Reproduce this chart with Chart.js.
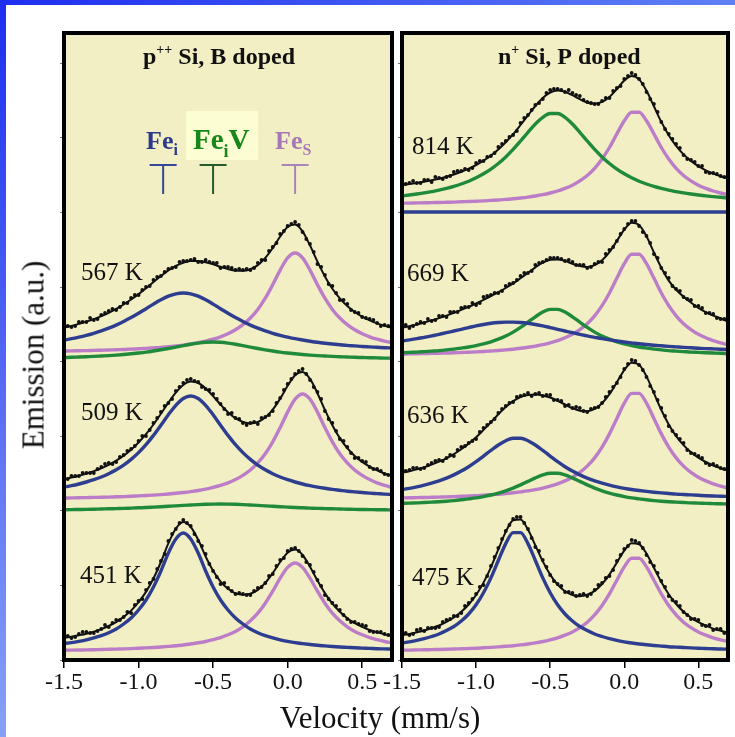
<!DOCTYPE html>
<html>
<head>
<meta charset="utf-8">
<script src="https://cdn.jsdelivr.net/npm/chart.js@4.4.1/dist/chart.umd.min.js"></script>
<style>
  html, body { margin: 0; padding: 0; background: #fff; }
  body { width: 735px; height: 737px; position: relative; overflow: hidden; font-family: "Liberation Serif", "Times New Roman", serif; color: #111; }
  #topbar { position: absolute; left: 0; top: 0; width: 735px; height: 5px; background: linear-gradient(to right, #1e2ef0, #5f80f5); }
  #leftbar { position: absolute; left: 0; top: 0; width: 6px; height: 737px; background: linear-gradient(to bottom, #1e2ef0, #86a2f7); }
  canvas { position: absolute; top: 0; }
  #cLeft { left: 0; }
  #cRight { left: 338px; }
  #ylab { position: absolute; left: 33px; top: 355px; transform: translate(-50%, -50%) rotate(-90deg); font-size: 31px; line-height: 31px; white-space: nowrap; }
  #xlab { position: absolute; left: 380px; top: 702px; transform: translateX(-50%); font-size: 31px; line-height: 31px; white-space: nowrap; }
</style>
</head>
<body>
<div id="topbar"></div>
<div id="leftbar"></div>
<canvas id="cLeft" width="400" height="737"></canvas>
<canvas id="cRight" width="397" height="737"></canvas>
<div id="ylab">Emission (a.u.)</div>
<div id="xlab">Velocity (mm/s)</div>
<script>
// velocity grids (mm/s): curves and data points on the main grid, extra data points in between
const velocity = [-1.5,-1.45,-1.4,-1.35,-1.3,-1.25,-1.2,-1.15,-1.1,-1.05,-1.0,-0.95,-0.9,-0.85,-0.8,-0.75,-0.7,-0.65,-0.6,-0.55,-0.5,-0.45,-0.4,-0.35,-0.3,-0.25,-0.2,-0.15,-0.1,-0.05,0,0.05,0.1,0.15,0.2,0.25,0.3,0.35,0.4,0.45,0.5,0.55,0.6,0.65,0.7]
const velocityMid = [-1.475,-1.425,-1.375,-1.325,-1.275,-1.225,-1.175,-1.125,-1.075,-1.025,-0.975,-0.925,-0.875,-0.825,-0.775,-0.725,-0.675,-0.625,-0.575,-0.525,-0.475,-0.425,-0.375,-0.325,-0.275,-0.225,-0.175,-0.125,-0.075,-0.025,0.025,0.075,0.125,0.175,0.225,0.275,0.325,0.375,0.425,0.475,0.525,0.575,0.625,0.675]

// p++ Si, B doped (values above each spectrum's baseline, a.u.)
const offsetsLeft = [307, 160, 8]
const tempsLeft = ['567 K', '509 K', '451 K']

const dots567 = [27,26,31,31,33,38,42,43,50,55,58,66,73,77,84,86,92,93,91,93,90,85,86,83,83,83,90,93,106,119,127,131,121,109,89,78,67,53,49,41,36,34,30,28,24]
const mid567 = [27,27,31,35,34,40,44,46,50,58,63,67,76,81,85,91,92,94,91,91,90,86,85,84,84,85,93,102,110,122,129,128,114,101,86,69,60,53,43,40,35,33,27,27]
const fit567 = [25.5,27.1,29.2,31.4,33.9,36.9,40.2,44.1,48.5,53.5,58.9,64.8,71,77,82.6,87.1,90.3,92,92,90.8,88.7,86.2,83.9,82.4,82.2,83.8,87.9,95.1,105,116.5,126,128.5,121.6,107.6,91.4,76.6,64.2,54.6,46.9,41,36.3,32.6,29.6,27.1,25.1]
const blue567 = [13.0,14.3,15.9,17.7,19.7,22.1,24.8,27.9,31.5,35.4,39.7,44.3,48.9,53.2,56.8,59.2,60,59.2,56.8,53.2,48.9,44.3,39.7,35.4,31.5,27.9,24.8,22.1,19.7,17.7,15.9,14.3,13.0,11.8,10.7,9.8,9.0,8.3,7.6,7.1,6.5,6.1,5.7,5.3,5.0]
const green567 = [-4.5,-4.3,-4.0,-3.7,-3.4,-3.0,-2.6,-2.1,-1.5,-0.8,0,0.9,2,3.2,4.5,5.9,7.4,8.8,9.9,10.7,11,10.7,9.9,8.8,7.4,5.9,4.5,3.2,2,0.9,0,-0.8,-1.5,-2.1,-2.6,-3.0,-3.4,-3.7,-4.0,-4.3,-4.5,-4.7,-4.9,-5.1,-5.2]
const pink567 = [2.0,2.1,2.3,2.4,2.6,2.8,3.0,3.3,3.5,3.9,4.2,4.6,5.1,5.6,6.3,7.0,7.9,9.0,10.3,11.9,13.8,16.2,19.3,23.2,28.3,35.0,43.6,54.8,68.3,82.9,95.1,100,95.1,82.9,68.3,54.8,43.6,35.0,28.3,23.2,19.3,16.2,13.8,11.9,10.3]

const dots509 = [20,24,24,27,27,33,37,38,45,51,59,64,77,88,97,109,117,121,118,111,106,96,86,82,77,77,76,83,89,102,116,126,131,120,108,89,77,61,53,42,39,33,31,26,25]
const mid509 = [21,24,27,27,31,36,36,43,49,54,64,70,82,94,101,113,120,119,113,110,101,91,87,81,75,78,82,85,97,110,121,129,126,113,101,81,69,59,47,42,38,31,29,25]
const fit509 = [20.9,22.4,24.2,26.4,28.9,31.7,35.2,39.4,44.3,50.3,57.5,65.8,75.5,86.2,97.3,107.4,115,118.4,117,111.6,103.9,95.4,87.8,81.8,78,76.6,78,82.4,90.4,101.4,114.2,124.8,128,121.1,106.8,90.1,74.7,61.9,51.9,44.1,38.1,33.4,29.6,26.5,24.1]
const blue509 = [12.9,14.3,16.0,18.0,20.3,23.0,26.3,30.2,34.9,40.6,47.4,55.3,64.6,74.8,85.3,94.7,101.5,104,101.5,94.7,85.3,74.8,64.6,55.3,47.4,40.6,34.9,30.2,26.3,23.0,20.3,18.0,16.0,14.3,12.9,11.7,10.6,9.7,8.8,8.1,7.5,6.9,6.4,5.9,5.5]
const green509 = [-9.7,-9.6,-9.5,-9.4,-9.2,-9.0,-8.8,-8.6,-8.4,-8.1,-7.8,-7.5,-7.1,-6.7,-6.3,-5.9,-5.4,-5.0,-4.6,-4.3,-4.1,-4.0,-4.1,-4.3,-4.6,-5.0,-5.4,-5.9,-6.3,-6.7,-7.1,-7.5,-7.8,-8.1,-8.4,-8.6,-8.8,-9.0,-9.2,-9.4,-9.5,-9.6,-9.7,-9.8,-9.9]
const pink509 = [2.0,2.1,2.2,2.4,2.6,2.7,2.9,3.2,3.4,3.7,4.1,4.5,4.9,5.4,6.0,6.7,7.5,8.4,9.5,10.9,12.6,14.6,17.2,20.5,24.6,30.0,37.1,46.2,58.1,72.4,87.9,100.8,106,100.8,87.9,72.4,58.1,46.2,37.1,30.0,24.6,20.5,17.2,14.6,12.6]

const dots451 = [15,14,18,20,19,23,25,32,35,39,51,62,73,91,111,123,132,126,111,98,81,68,64,58,58,57,64,69,78,92,101,104,96,87,72,57,49,42,33,30,27,21,20,18,18]
const mid451 = [16,15,20,19,21,27,29,32,40,47,53,69,83,98,118,129,129,118,106,88,75,69,61,59,57,61,65,76,86,94,103,101,90,80,66,53,46,37,30,28,26,20,20,17]
const fit451 = [14.2,15.3,16.7,18.3,20.4,22.9,26.0,29.9,35.1,41.4,49.8,60.1,73.5,90,108.6,123.3,130,125,112.2,95.5,81.3,70.4,63.2,58.6,57.2,58.2,62.1,69.2,78.9,90,99.3,102.4,97,85.3,71.5,58.9,48.3,40.2,33.8,28.8,25.1,22,19.6,17.6,16.1]
const blue451 = [8.4,9.4,10.7,12.2,14.1,16.4,19.3,23,28,34,42,52,65,81,99,113,119,113,99,81,65,52,42,34,28,23,19.3,16.4,14.1,12.2,10.7,9.4,8.4,7.5,6.7,6.1,5.5,5.0,4.6,4.2,3.9,3.6,3.3,3.1,2.9]
const pink451 = [1.8,1.9,2.0,2.1,2.3,2.5,2.7,2.9,3.1,3.4,3.8,4.1,4.5,5.0,5.6,6.3,7.0,8.0,9.2,10.5,12.3,14.4,17.2,20.6,25.2,31.2,38.8,48.8,60.8,73.8,84.6,89,84.6,73.8,60.8,48.8,38.8,31.2,25.2,20.6,17.2,14.4,12.3,10.5,9.2]

// n+ Si, P doped
const offsetsRight = [455, 304, 160, 8]
const tempsRight = ['814 K', '669 K', '636 K', '475 K']

const dots814 = [19,22,22,25,23,27,28,33,34,35,42,44,49,58,64,70,82,90,100,106,115,116,113,112,109,103,101,104,107,117,126,132,126,113,101,83,71,61,50,45,39,33,32,29,25]
const mid814 = [21,24,22,25,28,26,29,34,36,37,44,48,52,61,68,74,87,95,102,112,116,115,115,110,105,102,101,107,114,119,129,130,121,106,93,76,66,57,46,43,39,32,31,28]
const fit814 = [19.9,20.9,22.1,23.3,24.8,26.3,28.3,30.5,33.2,36.3,40,44.3,49.5,55.5,62.7,70.8,80,89.6,99,107,112.5,114.5,113.3,109.8,105.8,102.5,101.3,103.1,108,116,124.4,129,125.6,114.2,98.7,83.1,69.8,59.1,50.6,44.1,38.8,34.7,31.4,28.7,26.4]
const blue814 = [-7,-7,-7,-7,-7,-7,-7,-7,-7,-7,-7,-7,-7,-7,-7,-7,-7,-7,-7,-7,-7,-7,-7,-7,-7,-7,-7,-7,-7,-7,-7,-7,-7,-7,-7,-7,-7,-7,-7,-7,-7,-7,-7,-7,-7]
const green814 = [9.1,10.0,11.0,12.1,13.4,14.8,16.6,18.6,21.0,23.8,27.2,31.2,35.9,41.5,48.1,55.6,64.0,72.7,81.0,87.7,91.5,91.5,87.7,81.0,72.7,64.0,55.6,48.1,41.5,35.9,31.2,27.2,23.8,21.0,18.6,16.6,14.8,13.4,12.1,11.0,10.0,9.1,8.4,7.7,7.1]
const pink814 = [1.8,1.9,2.1,2.2,2.4,2.5,2.7,2.9,3.2,3.5,3.8,4.1,4.6,5.0,5.6,6.2,7.0,7.9,9.0,10.3,12.0,14.0,16.6,19.8,24.1,29.5,36.7,46.0,57.5,71.1,84.2,92.8,92.8,84.2,71.1,57.5,46.0,36.7,29.5,24.1,19.8,16.6,14.0,12.0,10.3]

const dots669 = [29,28,32,33,35,40,39,44,48,49,51,59,61,63,70,73,80,83,91,94,98,98,95,94,91,88,92,94,106,115,127,135,130,120,102,88,78,67,59,56,50,43,42,37,35]
const mid669 = [31,30,34,37,36,40,44,44,49,53,53,60,63,65,72,76,83,85,93,96,98,97,96,91,91,89,94,102,109,122,132,135,124,113,98,83,70,65,57,50,48,43,38,37]
const fit669 = [28.3,29.8,31.4,33.5,35.6,37.9,40.4,43.1,46.1,49.2,52.6,56.1,59.9,63.8,68,72.6,77.8,83.2,88.6,93.3,96.2,96.6,95.1,92.2,89.9,89,90.8,95.7,103.9,115.1,126.4,133.2,130.9,119.7,103.6,88.3,75.4,66.2,59.3,53.5,48.1,43.9,40.4,37.7,34.3]
const blue669 = [15.0,16.1,17.3,18.7,20.1,21.7,23.3,25.0,26.7,28.4,30.1,31.5,32.7,33.5,33.9,33.9,33.5,32.7,31.5,30.1,28.4,26.7,25.0,23.3,21.7,20.1,18.7,17.3,16.1,15.0,14.0,13.1,12.2,11.5,10.8,10.2,9.6,9.1,8.6,8.2,7.8,7.4,7.1,6.8,6.5]
const green669 = [3.3,3.6,3.9,4.4,4.9,5.4,6.1,6.9,7.9,9.0,10.4,12.1,14.2,16.8,20.0,23.9,28.6,33.8,39.2,43.9,46.6,46.6,43.9,39.2,33.8,28.6,23.9,20.0,16.8,14.2,12.1,10.4,9.0,7.9,6.9,6.1,5.4,4.9,4.4,3.9,3.6,3.3,3.0,2.7,2.5]
const pink669 = [2.0,2.1,2.2,2.4,2.6,2.8,3.0,3.2,3.5,3.8,4.1,4.5,5.0,5.5,6.1,6.8,7.7,8.7,9.9,11.3,13.2,15.3,18.2,21.7,26.4,32.3,40.2,50.4,63.0,77.9,92.3,101.7,101.7,92.3,77.9,63.0,50.4,40.2,32.3,26.4,21.7,18.2,15.3,13.2,11.3]

const dots636 = [25,30,32,32,37,40,42,44,53,57,61,72,78,87,94,98,104,107,106,104,105,100,94,92,92,88,92,97,108,117,131,140,135,123,108,92,74,65,57,47,44,37,36,32,30]
const mid636 = [29,32,31,35,39,39,45,50,54,59,68,75,81,91,97,103,105,104,107,105,100,99,95,93,89,91,93,103,113,123,136,139,130,114,100,84,69,61,50,46,42,35,34,31]
const fit636 = [27.2,28.8,30.6,32.8,35.4,38.3,41.7,45.9,50.8,56.4,62.7,70.1,77.8,85.7,92.9,98.8,102.9,105,105.5,104.6,102.5,99.2,95.5,91.8,89.3,88.8,91.1,96.8,105.8,117.7,129.9,137.2,135.2,123.6,106.8,90,75.6,63.9,54.9,47.8,42.4,38,34.5,31.8,29.4]
const blue636 = [10.5,11.7,13.1,14.8,16.8,19.1,21.8,25.1,28.9,33.3,38.3,43.9,49.6,55.0,59.3,61.7,61.7,59.3,55.0,49.6,43.9,38.3,33.3,28.9,25.1,21.8,19.1,16.8,14.8,13.1,11.7,10.5,9.5,8.6,7.8,7.1,6.5,5.9,5.5,5.1,4.7,4.3,4.0,3.8,3.5]
const green636 = [-3.4,-3.1,-2.9,-2.5,-2.1,-1.7,-1.2,-0.6,0.2,1.1,2.1,3.4,5.0,6.9,9.2,11.9,15.1,18.6,22.1,25.1,26.8,26.8,25.1,22.1,18.6,15.1,11.9,9.2,6.9,5.0,3.4,2.1,1.1,0.2,-0.6,-1.2,-1.7,-2.1,-2.5,-2.9,-3.1,-3.4,-3.6,-3.8,-4.0]
const pink636 = [2.1,2.2,2.4,2.5,2.7,2.9,3.1,3.4,3.7,4.0,4.3,4.8,5.2,5.8,6.4,7.2,8.1,9.1,10.4,11.9,13.8,16.1,19.1,22.8,27.6,33.9,42.1,52.8,66.1,81.6,96.8,106.6,106.6,96.8,81.6,66.1,52.8,42.1,33.9,27.6,22.8,19.1,16.1,13.8,11.9]

const dots475 = [18,17,22,21,24,25,32,36,39,49,58,67,86,104,121,133,135,123,105,92,77,68,60,59,57,56,62,69,76,91,103,112,109,97,86,71,56,50,40,33,32,26,22,23,19]
const mid475 = [19,18,23,24,24,30,33,36,46,53,65,76,95,113,127,135,129,114,101,85,71,66,60,56,58,58,67,74,82,97,106,111,104,90,79,65,52,46,37,33,27,27,23,19]
const fit475 = [16.8,18.1,19.7,21.5,23.9,26.5,30.1,34.5,40.2,47.5,57,69.4,84.7,102.6,120.1,131.7,132.5,122.4,106.6,90.6,77.4,67.4,60.8,57,55.8,57.2,61.1,68,77.4,89.4,101.3,108.8,107.8,98.3,84.3,70,57.8,48,40.3,34.4,29.8,26.3,23.4,21.2,19.3]
const blue475 = [9.0,10.2,11.6,13.3,15.5,18.0,21.4,25.5,31.0,38.0,47.2,59.2,74.1,91.5,108.4,119.4,119.4,108.4,91.5,74.1,59.2,47.2,38.0,31.0,25.5,21.4,18.0,15.5,13.3,11.6,10.2,9.0,8.0,7.2,6.5,5.9,5.3,4.9,4.5,4.1,3.8,3.5,3.2,3.0,2.8]
const pink475 = [1.8,1.9,2.1,2.2,2.4,2.5,2.7,3.0,3.2,3.5,3.8,4.2,4.6,5.1,5.7,6.3,7.1,8.0,9.1,10.5,12.2,14.2,16.8,20.0,24.3,29.8,37.1,46.5,58.1,71.8,85.1,93.8,93.8,85.1,71.8,58.1,46.5,37.1,29.8,24.3,20.0,16.8,14.2,12.2,10.5]

// site markers in the legend (mm/s)
const markerVelocity = [-0.835, -0.5, 0.05]

const BLUE = '#2d3d8f', GREEN = '#1f8a3b', PINK = '#bc7dc8', INK = '#111'
const SERIF = '"Liberation Serif", "Times New Roman", serif'

const leftSpectra = [
  {offset: offsetsLeft[0], fit: fit567, dots: dots567, mid: mid567, parts: [[green567, GREEN], [blue567, BLUE], [pink567, PINK]]},
  {offset: offsetsLeft[1], fit: fit509, dots: dots509, mid: mid509, parts: [[green509, GREEN], [blue509, BLUE], [pink509, PINK]]},
  {offset: offsetsLeft[2], fit: fit451, dots: dots451, mid: mid451, parts: [[blue451, BLUE], [pink451, PINK]]}
]
const rightSpectra = [
  {offset: offsetsRight[0], fit: fit814, dots: dots814, mid: mid814, parts: [[blue814, BLUE], [green814, GREEN], [pink814, PINK]]},
  {offset: offsetsRight[1], fit: fit669, dots: dots669, mid: mid669, parts: [[blue669, BLUE], [green669, GREEN], [pink669, PINK]]},
  {offset: offsetsRight[2], fit: fit636, dots: dots636, mid: mid636, parts: [[green636, GREEN], [blue636, BLUE], [pink636, PINK]]},
  {offset: offsetsRight[3], fit: fit475, dots: dots475, mid: mid475, parts: [[blue475, BLUE], [pink475, PINK]]}
]

// draws a run of text pieces (for super/subscripts)
function rich(ctx, parts, x, y) {
  parts.forEach(p => {
    ctx.font = p.font
    ctx.fillStyle = p.color || INK
    ctx.fillText(p.text, x, y + (p.dy || 0))
    x += ctx.measureText(p.text).width
  })
}

const decor = {
  id: 'decor',
  beforeDraw(chart) {
    const {ctx, chartArea: a} = chart
    ctx.save()
    ctx.fillStyle = '#f3efc4'
    ctx.fillRect(a.left, a.top, a.right - a.left, a.bottom - a.top)
    ctx.restore()
  },
  afterDraw(chart, args, o) {
    const {ctx, chartArea: a} = chart
    const x = chart.scales.x
    ctx.save()
    ctx.strokeStyle = '#000'
    ctx.lineWidth = 4
    ctx.strokeRect(a.left, a.top, a.right - a.left, a.bottom - a.top)

    ctx.textAlign = 'center'
    ctx.textBaseline = 'alphabetic'
    ctx.fillStyle = INK
    ctx.font = '24px ' + SERIF
    x.ticks.forEach(t => ctx.fillText(t.value.toFixed(1), x.getPixelForValue(t.value), 689))

    ctx.textAlign = 'left'
    rich(ctx, o.title, o.titleX, 64)

    ctx.fillStyle = INK
    ctx.font = '25px ' + SERIF
    o.temps.forEach((t, i) => ctx.fillText(t, o.tempPos[i][0], o.tempPos[i][1]))

    if (o.legend) {
      ctx.fillStyle = '#fdfdd3'
      ctx.fillRect(186, 111, 72, 49)
      rich(ctx, [{text: 'Fe', font: 'bold 26px ' + SERIF, color: '#2b3a8c'}, {text: 'i', font: 'bold 16px ' + SERIF, color: '#2b3a8c', dy: 6}], 146, 149)
      rich(ctx, [{text: 'Fe', font: 'bold 29px ' + SERIF, color: '#16881a'}, {text: 'i', font: 'bold 18px ' + SERIF, color: '#16881a', dy: 8}, {text: 'V', font: 'bold 29px ' + SERIF, color: '#16881a'}], 193, 149)
      rich(ctx, [{text: 'Fe', font: 'bold 26px ' + SERIF, color: '#a878b6'}, {text: 'S', font: 'bold 16px ' + SERIF, color: '#a878b6', dy: 6}], 275, 149)
      const markColors = ['#34479a', '#245c2c', '#a884b8']
      markerVelocity.forEach((v, i) => {
        const px = x.getPixelForValue(v)
        ctx.strokeStyle = markColors[i]
        ctx.lineWidth = 2
        ctx.beginPath()
        ctx.moveTo(px - 13.5, 165)
        ctx.lineTo(px + 13.5, 165)
        ctx.moveTo(px, 165)
        ctx.lineTo(px, 194)
        ctx.stroke()
      })
    }
    ctx.restore()
  }
}

function makePanel(id, spectra, decorOpts, padRight) {
  const datasets = []
  spectra.forEach(s => {
    const pts = (xs, vals) => xs.map((v, i) => ({x: v, y: s.offset + vals[i]}))
    s.parts.forEach(([vals, color]) => datasets.push({
      data: pts(velocity, vals), borderColor: color, borderWidth: 3.4, pointRadius: 0,
      cubicInterpolationMode: 'monotone', order: 2
    }))
    datasets.push({data: pts(velocity, s.fit), borderColor: INK, borderWidth: 2, pointRadius: 0, cubicInterpolationMode: 'monotone', order: 1})
    datasets.push({
      data: pts(velocity, s.dots).concat(pts(velocityMid, s.mid)),
      showLine: false, pointRadius: 1.9, pointBorderWidth: 0, pointBackgroundColor: INK, order: 0
    })
  })
  return new Chart(document.getElementById(id), {
    type: 'line',
    data: {datasets},
    options: {
      responsive: false,
      animation: false,
      devicePixelRatio: 1,
      events: [],
      layout: {padding: {left: 60, top: 33, right: padRight, bottom: 69}},
      plugins: {legend: {display: false}, tooltip: {enabled: false}, decor: decorOpts},
      scales: {
        x: {
          type: 'linear', min: -1.5, max: 0.7,
          afterFit: s => { s.height = 8 },
          ticks: {display: false, stepSize: 0.5, includeBounds: false},
          grid: {drawOnChartArea: false, drawTicks: true, tickLength: 8, color: '#000', lineWidth: 1.5},
          border: {display: false}
        },
        y: {
          min: 0, max: 627,
          afterFit: s => { s.width = 4 },
          ticks: {display: false, stepSize: 74.6, includeBounds: false},
          grid: {drawOnChartArea: false, drawTicks: true, tickLength: 4, color: '#777', lineWidth: 1},
          border: {display: false}
        }
      }
    },
    plugins: [decor]
  })
}

makePanel('cLeft', leftSpectra, {
  title: [{text: 'p', font: 'bold 24px ' + SERIF}, {text: '++', font: 'bold 14px ' + SERIF, dy: -10}, {text: ' Si, B doped', font: 'bold 24px ' + SERIF}],
  titleX: 143,
  temps: tempsLeft,
  tempPos: [[81, 280], [81, 420], [80, 583]],
  legend: true
}, 8)

makePanel('cRight', rightSpectra, {
  title: [{text: 'n', font: 'bold 24px ' + SERIF}, {text: '+', font: 'bold 14px ' + SERIF, dy: -10}, {text: ' Si, P doped', font: 'bold 24px ' + SERIF}],
  titleX: 160,
  temps: tempsRight,
  tempPos: [[74, 154], [69, 281], [69, 423], [74, 585]],
  legend: false
}, 7)
</script>
</body>
</html>
